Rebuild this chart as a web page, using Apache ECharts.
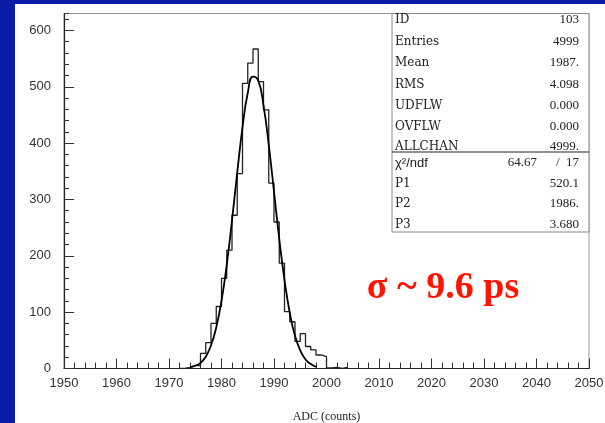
<!DOCTYPE html>
<html><head><meta charset="utf-8">
<script src="https://cdn.jsdelivr.net/npm/echarts@6/dist/echarts.min.js"></script>
<style>html,body{margin:0;padding:0;background:#fff}#c{width:605px;height:423px}</style>
</head><body><div id="c"></div>
<script>
// Histogram: bins of width 1, first bin starts at binStart
const binStart = 1973;
const counts = [2,5,5,27,46,80,110,160,210,272,346,506,542,567,509,459,329,260,187,101,83,48,62,39,33,24,21,1,2,0,2];
// Fitted curve
const fitX = [1974,1975,1976,1977,1978,1979,1980,1981,1982,1983,1984,1985,1986,1987,1988,1989,1990,1991,1992,1993,1994,1995,1996,1997,1998];
const fitY = [2,5,10,21,41,73,120,184,263,348,428,489,518,511,467,397,314,230,157,99,58,32,16,8,3];
// Stats box
const statLabels = ['ID','Entries','Mean','RMS','UDFLW','OVFLW','ALLCHAN'];
const statValues = ['103','4999','1987.','4.098','0.000','0.000','4999.'];
const fitLabels = ['χ²/ndf','P1','P2','P3'];
const fitValues = ['','520.1','1986.','3.680'];
const chi2 = '64.67', ndf = '/  17';
const xTitle = 'ADC (counts)';
const note = 'σ ~ 9.6 ps';

const histData = counts.map((c,i)=>[binStart+i,c]);
histData.unshift([binStart-1,0]);
histData.push([binStart+counts.length,0]);
const fitData = fitX.map((x,i)=>[x,fitY[i]]);

const BLUE = '#0a1ca8';
const serif = 'Liberation Serif, Times New Roman, serif';
const wserif = 'DejaVu Serif, serif';
const g = [];
g.push({type:'rect',left:0,top:0,shape:{width:15,height:423},style:{fill:BLUE},z:-10});
g.push({type:'rect',left:0,top:0,shape:{width:605,height:4},style:{fill:BLUE},z:-10});
// stats box
const bx=392, by=13.5, bw=589-392, bh=232-13.5;
g.push({type:'rect',shape:{x:bx,y:by,width:bw,height:bh},style:{fill:'#fff',stroke:'#888',lineWidth:1},z:10});
g.push({type:'line',shape:{x1:bx,y1:152,x2:bx+bw,y2:152},style:{stroke:'#222',lineWidth:1.2},z:11});
const rowsTop=[20,41.5,63,84.5,106,127,147];
statLabels.forEach((t,i)=>{
  g.push({type:'text',x:395,y:rowsTop[i],style:{text:t,font:'12px '+wserif,fill:'#222',textAlign:'left',textVerticalAlign:'middle'},z:12});
  g.push({type:'text',x:579,y:rowsTop[i],style:{text:statValues[i],font:'13px '+serif,fill:'#222',textAlign:'right',textVerticalAlign:'middle'},z:12});
});
const rowsBot=[163,183.5,204,224.5];
fitLabels.forEach((t,i)=>{
  g.push({type:'text',x:395,y:rowsBot[i],style:{text:t,font:(i===0?'13px Liberation Sans, sans-serif':'12px '+wserif),fill:'#222',textAlign:'left',textVerticalAlign:'middle'},z:12});
  if(fitValues[i]) g.push({type:'text',x:579,y:rowsBot[i],style:{text:fitValues[i],font:'13px '+serif,fill:'#222',textAlign:'right',textVerticalAlign:'middle'},z:12});
});
g.push({type:'text',x:537,y:rowsBot[0],style:{text:chi2,font:'13px '+serif,fill:'#222',textAlign:'right',textVerticalAlign:'middle'},z:12});
g.push({type:'text',x:579,y:rowsBot[0],style:{text:ndf,font:'13px '+serif,fill:'#222',textAlign:'right',textVerticalAlign:'middle'},z:12});
g.push({type:'text',x:443,y:288,style:{text:note,font:'bold 38px '+serif,fill:'#ff1400',textAlign:'center',textVerticalAlign:'middle'},z:12});

const tickCol='#333';
const chart = echarts.init(document.getElementById('c'),null,{renderer:'canvas'});
chart.setOption({
  animation:false,
  backgroundColor:'#fff',
  grid:{left:64,right:16,top:13.5,bottom:54.5,containLabel:false,outerBoundsMode:'none',show:true,borderColor:'#999',borderWidth:1,backgroundColor:'transparent'},
  xAxis:[{type:'value',min:1950,max:2050,interval:10,position:'bottom',
    axisLine:{lineStyle:{color:'#222',width:1.2}},
    axisTick:{inside:true,length:10,lineStyle:{color:tickCol}},
    axisLabel:{margin:8,fontSize:13,fontFamily:'Liberation Sans, sans-serif',color:'#333',formatter:v=>String(v)},
    splitLine:{show:false},
    name:xTitle,nameLocation:'middle',nameGap:42,nameTextStyle:{fontFamily:serif,fontSize:12,color:'#222'}},
   {type:'value',min:1950,max:2050,interval:2,position:'bottom',
    axisLine:{show:false},axisTick:{inside:true,length:6,lineStyle:{color:tickCol}},axisLabel:{show:false},splitLine:{show:false}}],
  yAxis:[{type:'value',min:0,max:630,interval:100,position:'left',
    axisLine:{show:true,lineStyle:{color:'#222',width:1.2}},
    axisTick:{show:true,inside:true,length:10,lineStyle:{color:tickCol}},
    axisLabel:{margin:13,fontSize:13,fontFamily:'Liberation Sans, sans-serif',color:'#333',showMaxLabel:false},
    splitLine:{show:false}},
   {type:'value',min:0,max:630,interval:20,position:'left',
    axisLine:{show:false},axisTick:{show:true,inside:true,length:5,lineStyle:{color:tickCol}},axisLabel:{show:false},splitLine:{show:false}}],
  graphic:g,
  series:[
    {type:'line',data:histData,step:'end',symbol:'none',lineStyle:{color:'#222',width:1.3},z:3},
    {type:'line',data:fitData,smooth:true,symbol:'none',lineStyle:{color:'#000',width:1.8},z:4}
  ]
});
</script></body></html>
